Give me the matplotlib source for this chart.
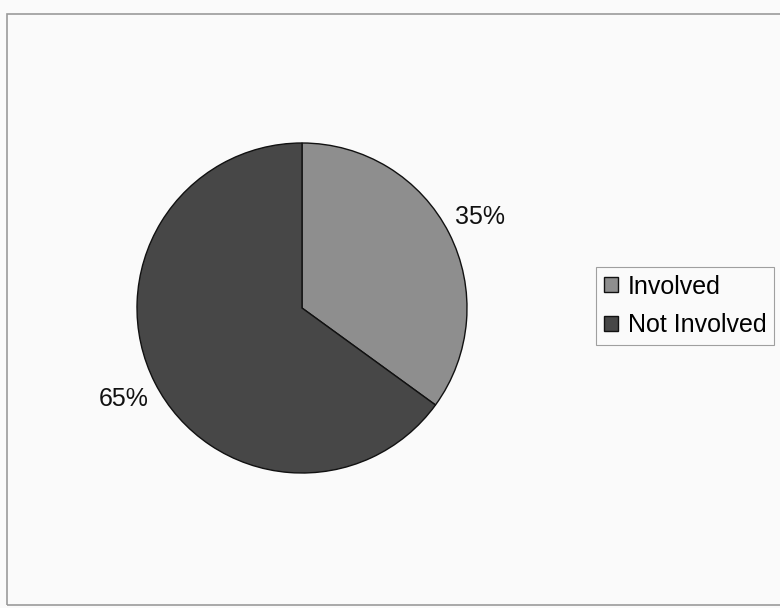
import matplotlib.pyplot as plt
from matplotlib.patches import Rectangle

labels = ['Involved', 'Not Involved']
shares = [35, 65]
colors = ['#8e8e8e', '#474747']

plt.rcParams['font.family'] = ['Liberation Sans', 'DejaVu Sans']

fig = plt.figure(figsize=(7.8, 6.08), dpi=100, facecolor='#fafafa')

# outer chart frame (right side runs off the picture)
fig.patches.append(Rectangle((7 / 780, 3 / 608), 790 / 780, 591 / 608,
                             transform=fig.transFigure, fill=False,
                             edgecolor='#9a9a9a', linewidth=1.2))

ax = fig.add_axes([137 / 780, 135 / 608, 330 / 780, 330 / 608])
ax.set_facecolor('#fafafa')
wedges, texts, autotexts = ax.pie(
    shares, colors=colors, startangle=90, counterclock=False,
    autopct='%d%%', pctdistance=1.21, radius=1,
    wedgeprops={'edgecolor': '#111111', 'linewidth': 1.0},
    textprops={'fontsize': 18, 'color': '#111111'})
ax.set_xlim(-1, 1)
ax.set_ylim(-1, 1)
ax.set_aspect('equal')
ax.axis('off')

leg = fig.legend(wedges, labels, loc='upper left',
                 bbox_to_anchor=(596 / 780, 1 - 267 / 608),
                 fontsize=18, frameon=True, fancybox=False,
                 edgecolor='#888888', handlelength=0.56, handleheight=0.56,
                 handletextpad=0.4, borderpad=0.3, labelspacing=0.6,
                 borderaxespad=0)
leg.get_frame().set_linewidth(0.8)
leg.get_frame().set_facecolor('#fafafa')

fig.savefig('out.png', dpi=100, facecolor=fig.get_facecolor())
